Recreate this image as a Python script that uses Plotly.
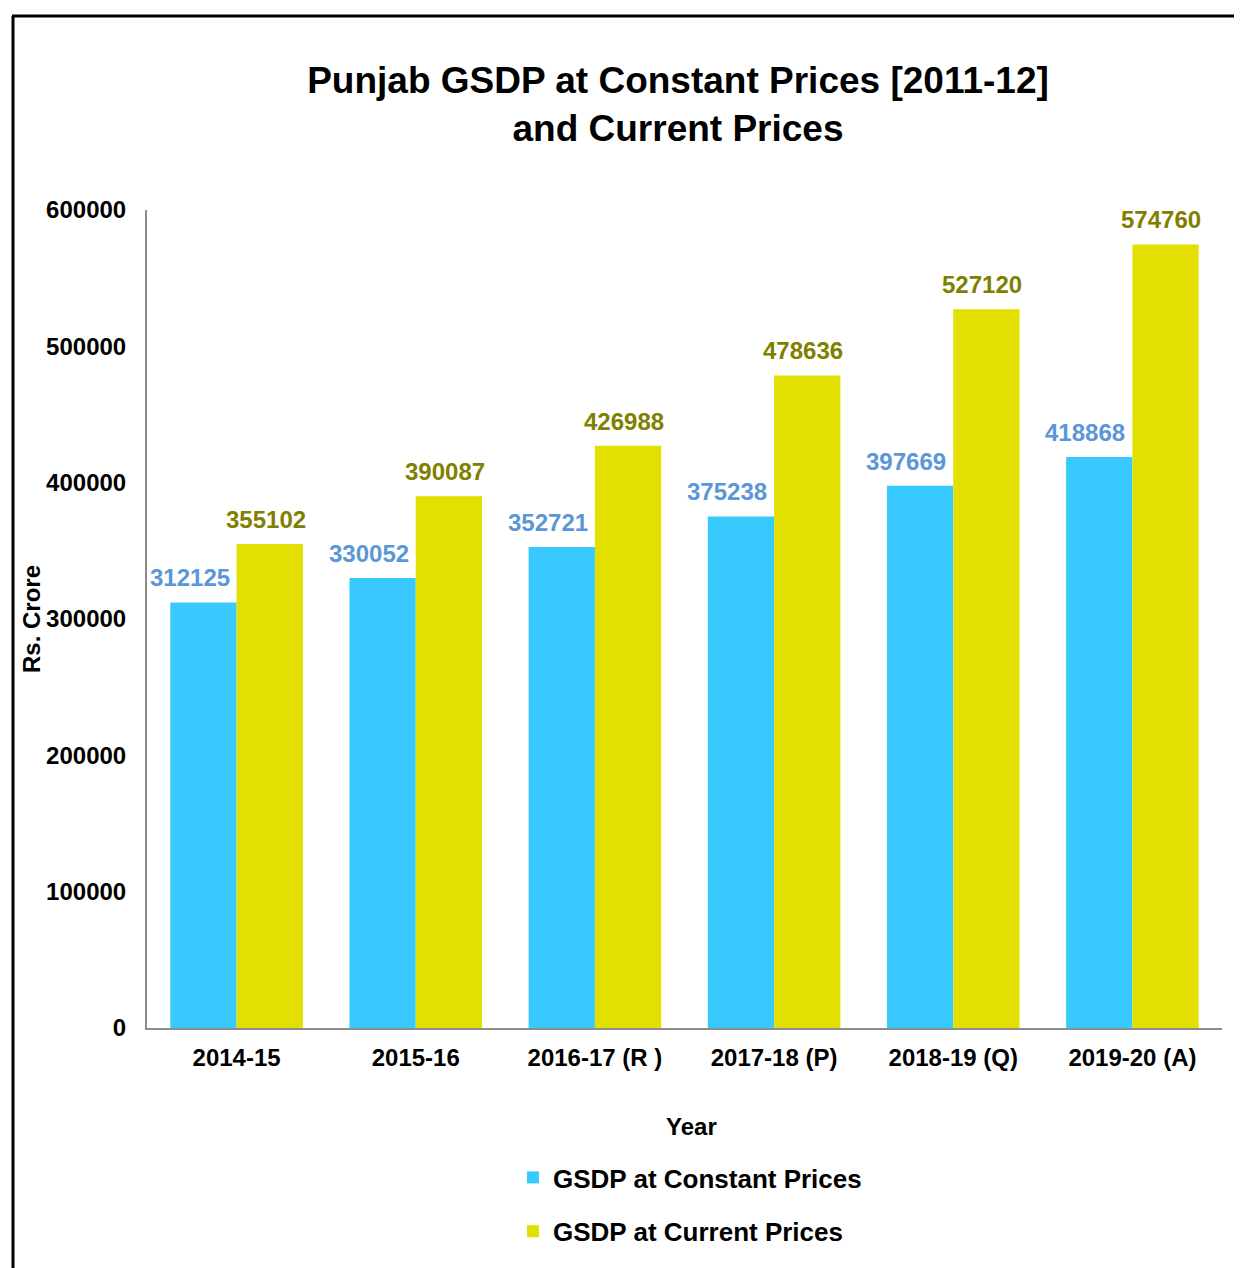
import plotly.graph_objects as go

years = ["2014-15", "2015-16", "2016-17 (R )", "2017-18 (P)", "2018-19 (Q)", "2019-20 (A)"]
constant_prices = [312125, 330052, 352721, 375238, 397669, 418868]
current_prices = [355102, 390087, 426988, 478636, 527120, 574760]
y_ticks = [0, 100000, 200000, 300000, 400000, 500000, 600000]

FONT = "Liberation Sans, Arial, sans-serif"
OFF = 8  # page body margin
W, H = 1242 - OFF, 1268 - OFF
# plot area in screen px: x 147..1222, y 210..1028
L, T = 147 - OFF, 210 - OFF
R = W - (1222 - OFF)
B = H - (1028 - OFF)
pw, ph = W - L - R, H - T - B

def px_x(x):  # screen x -> paper
    return (x - OFF - L) / pw

def px_y(y):  # screen y -> paper
    return (H - B - (y - OFF)) / ph

fig = go.Figure()
fig.add_trace(go.Bar(
    x=years, y=constant_prices, name="<b>GSDP at Constant Prices</b>",
    marker=dict(color="#38CAFF", line=dict(width=0)), legendgroup="a",
))
fig.add_trace(go.Bar(
    x=years, y=current_prices, name="<b>GSDP at Current Prices</b>",
    marker=dict(color="#E3DF00", line=dict(width=0)), legendgroup="b",
))

annotations = []
for yr, v in zip(years, constant_prices):
    annotations.append(dict(text=f"<b>{v}</b>", x=yr, y=v, xref="x", yref="y",
                            xshift=-47, yshift=9, showarrow=False,
                            xanchor="center", yanchor="bottom",
                            font=dict(size=24, family=FONT, color="#5B96D8")))
for yr, v in zip(years, current_prices):
    annotations.append(dict(text=f"<b>{v}</b>", x=yr, y=v, xref="x", yref="y",
                            xshift=29, yshift=9, showarrow=False,
                            xanchor="center", yanchor="bottom",
                            font=dict(size=24, family=FONT, color="#808000")))
annotations += [
    dict(text="<b>Year</b>", x=px_x(691), y=px_y(1126), xref="paper", yref="paper",
         showarrow=False, xanchor="center", yanchor="middle",
         font=dict(size=24, family=FONT, color="black")),
    dict(text="<b>Rs. Crore</b>", x=px_x(31), y=px_y(619), xref="paper", yref="paper",
         showarrow=False, xanchor="center", yanchor="middle", textangle=-90,
         font=dict(size=24, family=FONT, color="black")),
]

fig.update_layout(
    width=W, height=H,
    margin=dict(l=L, r=R, t=T, b=B, autoexpand=False),
    paper_bgcolor="white", plot_bgcolor="white",
    barmode="group", bargap=0.26, bargroupgap=0,
    font=dict(family=FONT, color="black", size=24),
    title=dict(
        text="<b>Punjab GSDP at Constant Prices [2011-12]<br>and Current Prices</b>",
        x=(678 - OFF) / W, xanchor="center", y=1 - (93 - OFF) / H, yanchor="middle",
        font=dict(size=37, family=FONT, color="black"),
    ),
    showlegend=True,
    legend=dict(
        x=px_x(513), xanchor="left", y=px_y(1154), yanchor="top",
        orientation="v", font=dict(size=26, family=FONT, color="black"),
        traceorder="grouped", tracegroupgap=17, itemsizing="constant",
        bgcolor="rgba(0,0,0,0)",
    ),
    xaxis=dict(
        showline=True, linecolor="#8C8C8C", linewidth=2, showgrid=False,
        ticks="", tickfont=dict(size=24, family=FONT, color="black"),
        ticklabelstandoff=7, tickprefix="<b>", ticksuffix="</b>",
    ),
    yaxis=dict(
        range=[0, 600000], tickvals=y_ticks,
        ticktext=[f"<b>{v}</b>" for v in y_ticks],
        showline=True, linecolor="#8C8C8C", linewidth=2, showgrid=False,
        zeroline=False, ticks="", ticklabelstandoff=14,
        tickfont=dict(size=24, family=FONT, color="black"),
    ),
    annotations=annotations,
    shapes=[
        dict(type="line", xref="paper", yref="paper", x0=px_x(13), x1=px_x(13),
             y0=px_y(16), y1=px_y(1300), line=dict(color="black", width=3)),
        dict(type="line", xref="paper", yref="paper", x0=px_x(12), x1=px_x(1300),
             y0=px_y(16), y1=px_y(16), line=dict(color="black", width=3)),
    ],
)

fig.write_html("out.html")
